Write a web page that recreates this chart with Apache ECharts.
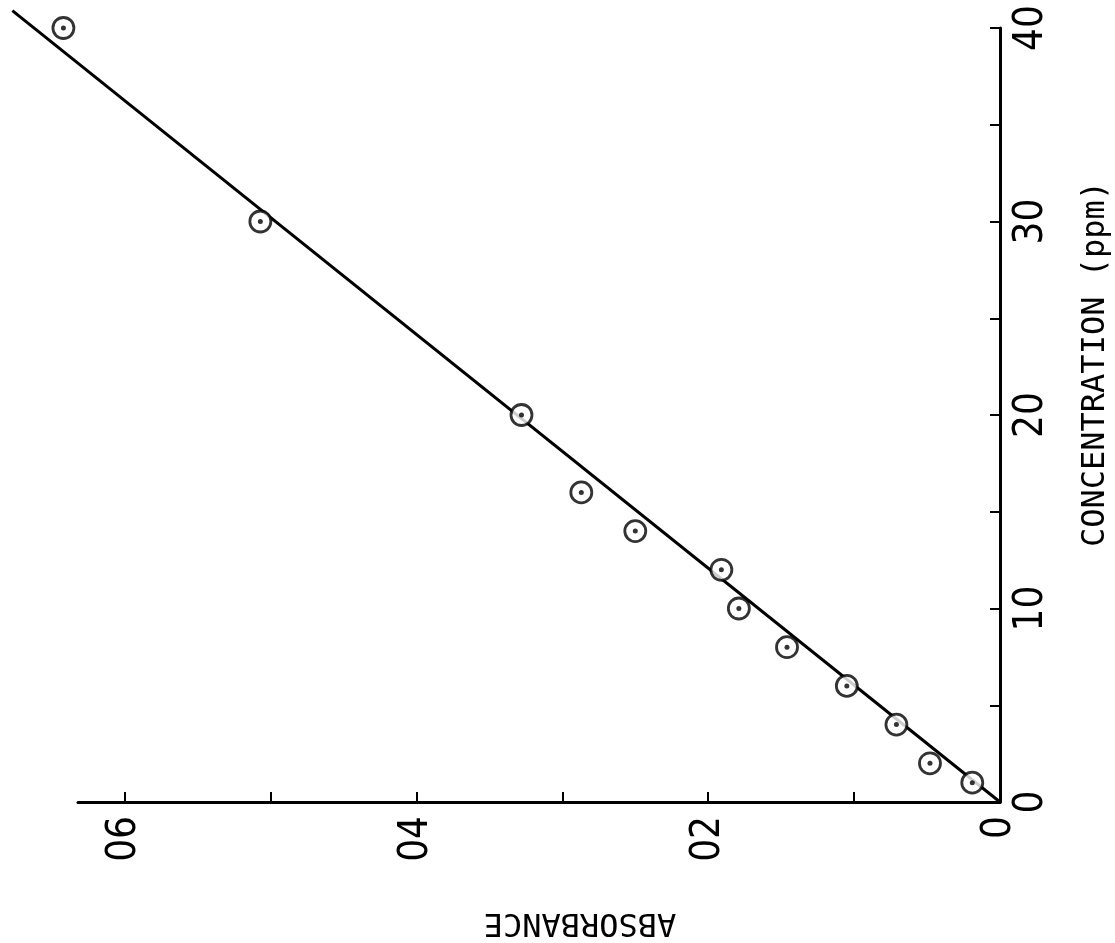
<!DOCTYPE html>
<html>
<head>
<meta charset="UTF-8"/>
<script src="https://cdn.jsdelivr.net/npm/echarts@6/dist/echarts.min.js"></script>
<style>
  html, body { margin: 0; padding: 0; background: #fff; }
  #c { width: 1115px; height: 943px; }
</style>
</head>
<body>
<div id="c"></div>
<script>
// calibration points (figure is printed turned 90 degrees)
const concentration = [1, 2, 4, 6, 8, 10, 12, 14, 16, 20, 30, 40];          // ppm
const absorbance = [0.019, 0.048, 0.071, 0.105, 0.146, 0.179, 0.191, 0.250, 0.287, 0.328, 0.507, 0.642];

// drawn calibration line, end points
const lineConc = [0, 40.9];
const lineAbs = [0, 0.677];

// axis ticks and labels
const absTicks = [0, 0.1, 0.2, 0.3, 0.4, 0.5, 0.6];
const absLabelValues = [0, 0.2, 0.4, 0.6];
const absLabelText = ["0", "02", "04", "06"];
const concTicks = [0, 5, 10, 15, 20, 25, 30, 35, 40];
const concLabelValues = [0, 10, 20, 30, 40];
const concLabelText = ["0", "10", "20", "30", "40"];

const MONO = "DejaVu Sans Mono";
const DIGITS = "'DejaVu Sans Condensed', 'DejaVu Sans'";

const pts = absorbance.map((a, i) => [a, concentration[i]]);
const fit = lineAbs.map((a, i) => [a, lineConc[i]]);

// grid 0 carries the drawn axes, grid 1 (same scale, larger range) carries the
// data so the line and the top point can run past the axis ends
const X0 = 1000, Y0 = 802;          // origin in pixels
const pxPerAbs = 922 / 0.632, pxPerPpm = 774 / 40;
const dataMaxAbs = 0.68, dataMaxPpm = 41;

const chart = echarts.init(document.getElementById("c"), null, { renderer: "canvas" });

chart.setOption({
  animation: false,
  backgroundColor: "#fff",
  grid: [
    { left: 78, right: 115, top: 28, bottom: 141, containLabel: false, outerBoundsMode: "none" },
    { left: X0 - dataMaxAbs * pxPerAbs, right: 115, top: Y0 - dataMaxPpm * pxPerPpm, bottom: 141, containLabel: false, outerBoundsMode: "none" }
  ],
  xAxis: [
    {
      gridIndex: 0,
      type: "value",
      min: 0,
      max: 0.632,
      inverse: true,
      position: "bottom",
      splitLine: { show: false },
      axisLine: { onZero: false, lineStyle: { color: "#000", width: 3 } },
      axisTick: { inside: true, length: 10, customValues: absTicks, lineStyle: { color: "#000", width: 2 } },
      axisLabel: {
        customValues: absLabelValues,
        rotate: 90,
        margin: 14,
        fontSize: 40,
        fontFamily: DIGITS,
        color: "#000",
        formatter: v => absLabelText[absLabelValues.indexOf(Math.round(v * 10) / 10)]
      }
    },
    { gridIndex: 1, type: "value", min: 0, max: dataMaxAbs, inverse: true, show: false }
  ],
  yAxis: [
    {
      gridIndex: 0,
      type: "value",
      min: 0,
      max: 40,
      position: "right",
      splitLine: { show: false },
      axisLine: { onZero: false, lineStyle: { color: "#000", width: 3 } },
      axisTick: { inside: true, length: 10, customValues: concTicks, lineStyle: { color: "#000", width: 2 } },
      axisLabel: {
        customValues: concLabelValues,
        rotate: 90,
        margin: 12,
        fontSize: 40,
        fontFamily: DIGITS,
        color: "#000",
        formatter: v => concLabelText[concLabelValues.indexOf(v)]
      }
    },
    { gridIndex: 1, type: "value", min: 0, max: dataMaxPpm, position: "right", show: false }
  ],
  graphic: [
    {
      type: "text",
      x: 580, y: 922,
      rotation: Math.PI,
      style: { text: "ABSORBANCE", font: "32px " + MONO, fill: "#000", align: "center", verticalAlign: "middle" }
    },
    {
      type: "text",
      x: 1096, y: 364,
      rotation: Math.PI / 2,
      style: { text: "CONCENTRATION (ppm)", font: "32px " + MONO, fill: "#000", align: "center", verticalAlign: "middle" }
    }
  ],
  series: [
    {
      type: "line",
      xAxisIndex: 1, yAxisIndex: 1,
      data: fit,
      symbol: "none",
      lineStyle: { color: "#000", width: 3 },
      z: 2
    },
    {
      type: "scatter",
      xAxisIndex: 1, yAxisIndex: 1,
      data: pts,
      symbol: "circle",
      symbolSize: 21,
      itemStyle: { color: "#fff", borderColor: "#000", borderWidth: 2.8 },
      z: 3
    },
    {
      type: "scatter",
      xAxisIndex: 1, yAxisIndex: 1,
      data: pts,
      symbol: "circle",
      symbolSize: 5,
      itemStyle: { color: "#000" },
      z: 4
    }
  ]
});
</script>
</body>
</html>
